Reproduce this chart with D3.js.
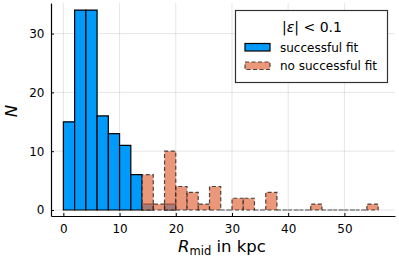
<!DOCTYPE html>
<html>
<head>
<meta charset="utf-8">
<script src="https://cdn.jsdelivr.net/npm/d3@7"></script>
<style>
  html, body { margin: 0; padding: 0; background: #fff; }
  svg { display: block; font-family: "DejaVu Sans", sans-serif; }
</style>
</head>
<body>
<svg id="chart" width="399" height="266"></svg>
<script>
/* ── DATA ── */
const binWidth = 2;
const successStarts = [0, 2, 4, 6, 8, 10, 12, 14, 16, 18];
const successCounts = [15, 34, 34, 16, 13, 11, 6, 1, 0, 1];
const failStarts = [14, 16, 18, 20, 22, 24, 26, 28, 30, 32, 34, 36, 38, 40, 42, 44, 46, 48, 50, 52, 54];
const failCounts = [6, 1, 10, 4, 3, 1, 4, 0, 2, 2, 0, 3, 0, 0, 0, 1, 0, 0, 0, 0, 1];
const xTicks = [0, 10, 20, 30, 40, 50];
const yTicks = [0, 10, 20, 30];
const seriesNames = ['successful fit', 'no successful fit'];

const BLUE = '#009afa', ORANGE = '#e36f47';

/* ── CHART ── */
(function () {
  const svg = d3.select('#chart');
  const L = 51, R = 395, T = 3, B = 216;

  const x = d3.scaleLinear().domain([-2.2, 59]).range([L, R]);
  const y = d3.scaleLinear().domain([-1.02, 35.2]).range([B, T]);

  // outline of one bin (degenerates to a line when the count is 0)
  const barPath = d => {
    const x0 = x(d.s), x1 = x(d.s + binWidth), y0 = y(0), y1 = y(d.n);
    return `M${x0},${y0}V${y1}H${x1}V${y0}Z`;
  };

  // grid
  const grid = svg.append('g').attr('stroke', '#000').attr('stroke-opacity', 0.1).attr('stroke-width', 1);
  grid.selectAll('line.gx').data(xTicks).join('line')
    .attr('x1', d => x(d)).attr('x2', d => x(d)).attr('y1', T).attr('y2', B);
  grid.selectAll('line.gy').data(yTicks).join('line')
    .attr('x1', L).attr('x2', R).attr('y1', d => y(d)).attr('y2', d => y(d));

  // success bars
  const ok = successStarts.map((s, i) => ({ s, n: successCounts[i] })).filter(d => d.n > 0);
  svg.append('g').selectAll('path').data(ok).join('path')
    .attr('d', barPath)
    .attr('fill', BLUE).attr('stroke', '#000').attr('stroke-width', 1.2);

  // fail bars (semi transparent, dashed)
  const bad = failStarts.map((s, i) => ({ s, n: failCounts[i] }));
  svg.append('g').selectAll('path').data(bad).join('path')
    .attr('d', barPath)
    .attr('fill', ORANGE).attr('fill-opacity', 0.72)
    .attr('stroke', '#222').attr('stroke-opacity', 0.8).attr('stroke-width', 1.2)
    .attr('stroke-dasharray', '4,2.5');

  // axes
  const xa = svg.append('g').attr('transform', `translate(0,${B})`)
    .call(d3.axisBottom(x).tickValues(xTicks).tickSize(-3).tickPadding(6).tickSizeOuter(0));
  const ya = svg.append('g').attr('transform', `translate(${L},0)`)
    .call(d3.axisLeft(y).tickValues(yTicks).tickSize(-3).tickPadding(6).tickSizeOuter(0));
  [xa, ya].forEach(a => {
    a.select('.domain').attr('stroke', '#000').attr('stroke-width', 1.2);
    a.selectAll('.tick line').attr('stroke', '#000');
    a.selectAll('text').attr('fill', '#000').style('font-size', '12px').style('font-family', '"DejaVu Sans", sans-serif');
  });
  xa.selectAll('text').attr('dy', '0.9em');
  ya.selectAll('text').attr('dx', '-0.05em');

  // labels
  const xl = svg.append('text').attr('x', (L + R) / 2 - 1).attr('y', 252)
    .attr('text-anchor', 'middle').style('font-size', '16.5px');
  xl.append('tspan').attr('font-style', 'italic').text('R');
  xl.append('tspan').attr('dy', 3).style('font-size', '11.5px').text('mid');
  xl.append('tspan').attr('dy', -3).text(' in kpc');

  svg.append('text').attr('transform', 'translate(17,111) rotate(-90)')
    .attr('text-anchor', 'middle').attr('font-style', 'italic').style('font-size', '16.5px').text('N');

  // legend
  const lg = svg.append('g');
  lg.append('rect').attr('x', 235.5).attr('y', 10.5).attr('width', 152).attr('height', 72)
    .attr('fill', '#fff').attr('stroke', '#333').attr('stroke-width', 1.2);
  const lt = lg.append('text').attr('x', 312).attr('y', 31.5).attr('text-anchor', 'middle').style('font-size', '14px');
  lt.append('tspan').text('|');
  lt.append('tspan').attr('font-style', 'italic').text('ε');
  lt.append('tspan').text('| < 0.1');
  lg.append('rect').attr('x', 245).attr('y', 43.5).attr('width', 25).attr('height', 7.5)
    .attr('fill', BLUE).attr('stroke', '#000').attr('stroke-width', 1.2);
  lg.append('rect').attr('x', 245).attr('y', 62).attr('width', 25).attr('height', 7.5)
    .attr('fill', ORANGE).attr('fill-opacity', 0.72)
    .attr('stroke', '#222').attr('stroke-opacity', 0.8).attr('stroke-width', 1.2).attr('stroke-dasharray', '4,2.5');
  seriesNames.forEach((s, i) => {
    lg.append('text').attr('x', 280).attr('y', 51.5 + i * 18.5).style('font-size', '12px').text(s);
  });
})();
</script>
</body>
</html>
